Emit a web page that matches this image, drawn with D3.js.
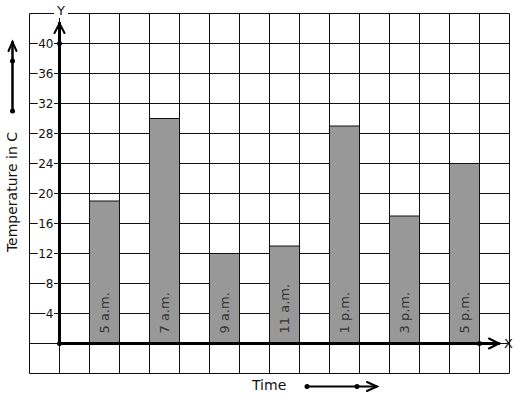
<!DOCTYPE html>
<html>
<head>
<meta charset="utf-8">
<script src="https://cdn.jsdelivr.net/npm/d3@7"></script>
<style>
  html, body { margin: 0; padding: 0; background: #fff; }
  svg { display: block; font-family: "DejaVu Sans", sans-serif; }
</style>
</head>
<body>
<svg id="chart" width="517" height="399"></svg>
<script>
// ---- data ----
const categories = ["5 a.m.", "7 a.m.", "9 a.m.", "11 a.m.", "1 p.m.", "3 p.m.", "5 p.m."];
const temperatures = [19, 30, 12, 13, 29, 17, 24];
const yTicks = [4, 8, 12, 16, 20, 24, 28, 32, 36, 40];
const yTitle = "Temperature in C";
const xTitle = "Time";

// ---- layout ----
const svg = d3.select("#chart");
const y = d3.scaleLinear().domain([0, 40]).range([343.5, 43.5]);
const gx = d3.scaleLinear().domain([0, 16]).range([29.5, 509.5]);
const x = d3.scaleBand().domain(categories).range([59.5, 479.5])
  .paddingInner(0.5).paddingOuter(0.25).align(1);

// grid
const grid = svg.append("g").attr("stroke", "#111").attr("stroke-width", 1);
grid.selectAll("line.v").data(d3.range(0, 17)).join("line")
  .attr("x1", d => gx(d)).attr("x2", d => gx(d))
  .attr("y1", y(44)).attr("y2", y(-4));
grid.selectAll("line.h").data(d3.range(-4, 45, 4)).join("line")
  .attr("x1", gx(0)).attr("x2", gx(16))
  .attr("y1", d => y(d)).attr("y2", d => y(d));

// bars
svg.append("g").selectAll("rect").data(categories).join("rect")
  .attr("x", d => x(d)).attr("width", x.bandwidth())
  .attr("y", (d, i) => y(temperatures[i]))
  .attr("height", (d, i) => y(0) - y(temperatures[i]))
  .attr("fill", "#989898").attr("stroke", "#111").attr("stroke-width", 1);

// bar labels
svg.append("g").selectAll("text").data(categories).join("text")
  .attr("transform", d => `translate(${x(d) + x.bandwidth() / 2 + 4.5},${y(0) - 10}) rotate(-90)`)
  .attr("font-size", 13).attr("fill", "#333")
  .text(d => d);

// y tick labels via axis
const yAxis = d3.axisLeft(y).tickValues(yTicks).tickSize(0).tickPadding(5.5);
const ya = svg.append("g").attr("transform", "translate(59,0)").call(yAxis);
ya.select(".domain").remove();
ya.selectAll("text").attr("font-size", 12).attr("font-family", "DejaVu Sans, sans-serif").attr("fill", "#111");
ya.selectAll(".tick").each(function () {
  const t = d3.select(this).select("text");
  const b = t.node().getBBox();
  d3.select(this).insert("rect", "text")
    .attr("x", b.x - 0.5).attr("y", b.y + 2).attr("width", b.width + 1).attr("height", b.height - 4)
    .attr("fill", "#fff");
});

// axes lines
const axes = svg.append("g").attr("stroke", "#000").attr("fill", "none").attr("stroke-linecap", "round");
axes.append("line").attr("x1", 59.5).attr("x2", 59.5).attr("y1", y(0)).attr("y2", 23).attr("stroke-width", 3);
axes.append("polyline").attr("points", "54.5,33 59.5,23.5 64.5,33").attr("stroke-width", 2);
axes.append("line").attr("x1", 59.5).attr("x2", 499).attr("y1", y(0)).attr("y2", y(0)).attr("stroke-width", 3);
axes.append("polyline").attr("points", "489,338.5 499,343.5 489,348.5").attr("stroke-width", 2);

// dots on axes
svg.append("g").selectAll("circle").data([[59.5, y(40)], [59.5, y(0)], [479.5, y(0)]]).join("circle")
  .attr("cx", d => d[0]).attr("cy", d => d[1]).attr("r", 2.5).attr("fill", "#000");

// axis letters
svg.append("rect").attr("x", 54).attr("y", 8).attr("width", 14).attr("height", 10).attr("fill", "#fff");
svg.append("text").attr("x", 61).attr("y", 15).attr("text-anchor", "middle")
  .attr("font-size", 13).attr("fill", "#111").text("Y");
svg.append("text").attr("x", 508.5).attr("y", 348).attr("text-anchor", "middle")
  .attr("font-size", 13).attr("fill", "#111").text("X");

// titles
svg.append("text").attr("transform", "translate(17,192) rotate(-90)")
  .attr("text-anchor", "middle").attr("font-size", 14).attr("fill", "#111").text(yTitle);
svg.append("text").attr("x", 252).attr("y", 390)
  .attr("font-size", 14).attr("fill", "#111").text(xTitle);

// decorative arrows
const deco = svg.append("g").attr("stroke", "#000").attr("fill", "none").attr("stroke-linecap", "round");
deco.append("line").attr("x1", 12.5).attr("x2", 12.5).attr("y1", 111).attr("y2", 42).attr("stroke-width", 2.5);
deco.append("polyline").attr("points", "8.5,51 12.5,42 16.5,51").attr("stroke-width", 2);
deco.append("line").attr("x1", 307).attr("x2", 377).attr("y1", 386.5).attr("y2", 386.5).attr("stroke-width", 2);
deco.append("polyline").attr("points", "367,382 377,386.5 367,391").attr("stroke-width", 2);
svg.append("g").selectAll("circle").data([[12.5, 61], [12.5, 111], [307, 386.5], [357, 386.5]]).join("circle")
  .attr("cx", d => d[0]).attr("cy", d => d[1]).attr("r", 2.5).attr("fill", "#000");
</script>
</body>
</html>
